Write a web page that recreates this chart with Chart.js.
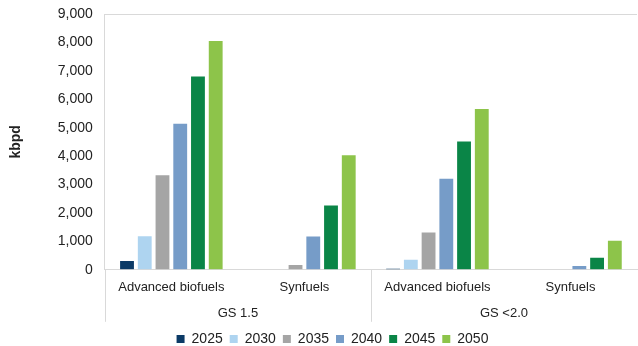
<!DOCTYPE html>
<html>
<head>
<meta charset="utf-8">
<script src="https://cdn.jsdelivr.net/npm/chart.js@4"></script>
<style>
  body { margin: 0; background: #fff; overflow: hidden; }
  #wrap { width: 638px; height: 346px; position: relative; }
</style>
</head>
<body>
<div id="wrap"><canvas id="chart"></canvas></div>
<script>
// categories: sub category + scenario group
const subLabels = ['Advanced biofuels', 'Synfuels', 'Advanced biofuels', 'Synfuels'];
const groupLabels = ['GS 1.5', 'GS <2.0'];
const years = ['2025', '2030', '2035', '2040', '2045', '2050'];

// kbpd per year, order follows subLabels
const v2025 = [310, 0, 40, 0];
const v2030 = [1180, 0, 355, 0];
const v2035 = [3330, 165, 1310, 0];
const v2040 = [5140, 1170, 3200, 130];
const v2045 = [6800, 2260, 4510, 425];
const v2050 = [8050, 4030, 5660, 1020];

const colors = ['#0b3a66', '#aed4f0', '#a5a5a5', '#769cc8', '#0a8547', '#8dc44a'];
const series = [v2025, v2030, v2035, v2040, v2045, v2050];

// vertical separators between the scenario groups, under the axis
const groupLines = {
    id: 'groupLines',
    afterLayout(chart) {
        // legend sits a bit right of the canvas centre in the original
        chart.legend.left += 12;
        chart.legend.right += 12;
    },
    afterDraw(chart) {
        const x = chart.scales.x;
        const c = chart.ctx;
        const top = chart.chartArea.bottom;
        const bottom = top + 52;
        const half = (x.getPixelForValue(1) - x.getPixelForValue(0)) / 2;
        c.save();
        c.strokeStyle = '#d9d9d9';
        c.lineWidth = 1;
        [0, 2].forEach(i => {
            const px = Math.round(x.getPixelForValue(i) - half) + 0.5;
            c.beginPath();
            c.moveTo(px, top);
            c.lineTo(px, bottom);
            c.stroke();
        });
        c.restore();
    }
};

Chart.defaults.font.family = '"Liberation Sans", Arial, sans-serif';
Chart.defaults.font.size = 13;
Chart.defaults.color = '#222';

new Chart(document.getElementById('chart'), {
    type: 'bar',
    data: {
        labels: subLabels,
        datasets: years.map((y, i) => ({
            label: y,
            data: series[i],
            backgroundColor: colors[i],
            borderWidth: 0,
            categoryPercentage: 0.8,
            barPercentage: 0.78
        }))
    },
    options: {
        responsive: true,
        maintainAspectRatio: false,
        animation: false,
        layout: { padding: { top: 14, right: 1, left: 4, bottom: -10 } },
        plugins: {
            legend: {
                position: 'bottom',
                labels: { boxWidth: 8, boxHeight: 8, padding: 7, font: { size: 14 } }
            },
            tooltip: { enabled: false }
        },
        scales: {
            x: {
                grid: { display: false },
                border: { color: '#d9d9d9' },
                ticks: { padding: 2 }
            },
            x2: {
                type: 'category',
                position: 'bottom',
                labels: groupLabels,
                grid: { display: false },
                border: { display: false },
                ticks: { padding: 0 },
                afterFit: s => { s.height += 4; }
            },
            y: {
                min: 0,
                max: 9000,
                ticks: {
                    stepSize: 1000,
                    padding: 3,
                    font: { size: 14 },
                    callback: v => v.toLocaleString('en-US')
                },
                grid: {
                    drawTicks: true,
                    tickLength: 9,
                    tickColor: 'rgba(0,0,0,0)',
                    color: ctx => ctx.tick && ctx.tick.value === 9000 ? '#d9d9d9' : 'rgba(0,0,0,0)'
                },
                border: { color: '#d9d9d9' },
                title: {
                    display: true,
                    text: 'kbpd',
                    font: { weight: 'bold', size: 14 },
                    padding: { top: 4, bottom: 30 }
                }
            }
        }
    },
    plugins: [groupLines]
});
</script>
</body>
</html>
